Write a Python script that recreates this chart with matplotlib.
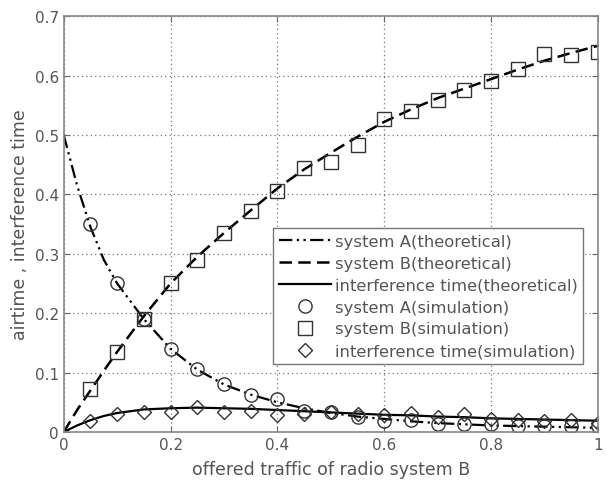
import matplotlib
matplotlib.use("Agg")
import matplotlib.pyplot as plt
import numpy as np

# Theoretical curves
x_th = [0.0, 0.025, 0.05, 0.075, 0.1, 0.15, 0.2, 0.25, 0.3, 0.35, 0.4, 0.45, 0.5,
        0.55, 0.6, 0.65, 0.7, 0.75, 0.8, 0.85, 0.9, 0.95, 1.0]
a_th = [0.5, 0.415, 0.345, 0.29, 0.25, 0.19, 0.14, 0.105, 0.08, 0.063, 0.05, 0.04, 0.032,
        0.026, 0.022, 0.018, 0.015, 0.013, 0.011, 0.010, 0.009, 0.008, 0.007]
b_th = [0.0, 0.037, 0.07, 0.103, 0.135, 0.195, 0.25, 0.295, 0.335, 0.373, 0.41, 0.442, 0.47,
        0.497, 0.522, 0.543, 0.562, 0.578, 0.594, 0.61, 0.625, 0.638, 0.65]
i_th = [0.0, 0.011, 0.02, 0.027, 0.032, 0.038, 0.04, 0.041, 0.04, 0.039, 0.037, 0.035, 0.033,
        0.031, 0.029, 0.028, 0.026, 0.025, 0.023, 0.022, 0.021, 0.020, 0.019]

# Simulation points
x_sim = [0.05, 0.1, 0.15, 0.2, 0.25, 0.3, 0.35, 0.4, 0.45, 0.5,
         0.55, 0.6, 0.65, 0.7, 0.75, 0.8, 0.85, 0.9, 0.95, 1.0]
a_sim = [0.35, 0.25, 0.19, 0.14, 0.106, 0.081, 0.063, 0.056, 0.035, 0.033,
         0.025, 0.019, 0.02, 0.013, 0.013, 0.013, 0.01, 0.01, 0.01, 0.01]
b_sim = [0.073, 0.135, 0.19, 0.25, 0.29, 0.335, 0.372, 0.405, 0.445, 0.455,
         0.483, 0.527, 0.541, 0.558, 0.576, 0.59, 0.611, 0.636, 0.634, 0.639]
i_sim = [0.018, 0.03, 0.034, 0.033, 0.042, 0.033, 0.035, 0.029, 0.03, 0.033,
         0.03, 0.028, 0.032, 0.025, 0.03, 0.022, 0.02, 0.018, 0.02, 0.015]

xticks = [0, 0.2, 0.4, 0.6, 0.8, 1]
xtick_labels = ["0", "0.2", "0.4", "0.6", "0.8", "1"]
yticks = [0, 0.1, 0.2, 0.3, 0.4, 0.5, 0.6, 0.7]
ytick_labels = ["0", "0.1", "0.2", "0.3", "0.4", "0.5", "0.6", "0.7"]

txt = "#555555"
fig = plt.figure(figsize=(6.07, 4.89), dpi=100)
ax = fig.add_axes([0.105, 0.1145, 0.88, 0.8505])

ax.plot(x_th, a_th, color="black", lw=1.6, ls=(0, (6, 2, 1, 2, 1, 2)), label="system A(theoretical)")
ax.plot(x_th, b_th, color="black", lw=1.8, ls=(0, (5, 2.5)), label="system B(theoretical)")
ax.plot(x_th, i_th, color="black", lw=1.6, ls="-", label="interference time(theoretical)")
ax.plot(x_sim, a_sim, ls="none", marker="o", ms=9.5, mfc="none", mec="#333333", mew=1.0,
        label="system A(simulation)")
ax.plot(x_sim, b_sim, ls="none", marker="s", ms=9.5, mfc="none", mec="#333333", mew=1.0,
        label="system B(simulation)")
ax.plot(x_sim, i_sim, ls="none", marker="D", ms=7.5, mfc="none", mec="#333333", mew=1.0,
        label="interference time(simulation)")

ax.set_xlim(0, 1)
ax.set_ylim(0, 0.7)
ax.set_xticks(xticks)
ax.set_xticklabels(xtick_labels)
ax.set_yticks(yticks)
ax.set_yticklabels(ytick_labels)
ax.grid(True, ls=(0, (1, 2.5)), color="#777777", lw=0.9)
ax.tick_params(direction="in", length=4, colors="#666666", labelcolor=txt, labelsize=11,
               top=True, right=True)
for s in ax.spines.values():
    s.set_color("#888888")
    s.set_linewidth(1.2)

ax.set_xlabel("offered traffic of radio system B", fontsize=12.5, color=txt, labelpad=6)
ax.set_ylabel("airtime , interference time", fontsize=12.5, color=txt, labelpad=4)

leg = ax.legend(loc="upper left", bbox_to_anchor=(0.392, 0.49), fontsize=11.8,
                frameon=True, fancybox=False, edgecolor="#777777", framealpha=1,
                handlelength=3.2, handletextpad=0.2, borderpad=0.35, labelspacing=0.42,
                borderaxespad=0)
for t in leg.get_texts():
    t.set_color(txt)
leg.get_frame().set_linewidth(1.0)

fig.savefig("out.png", dpi=100)
